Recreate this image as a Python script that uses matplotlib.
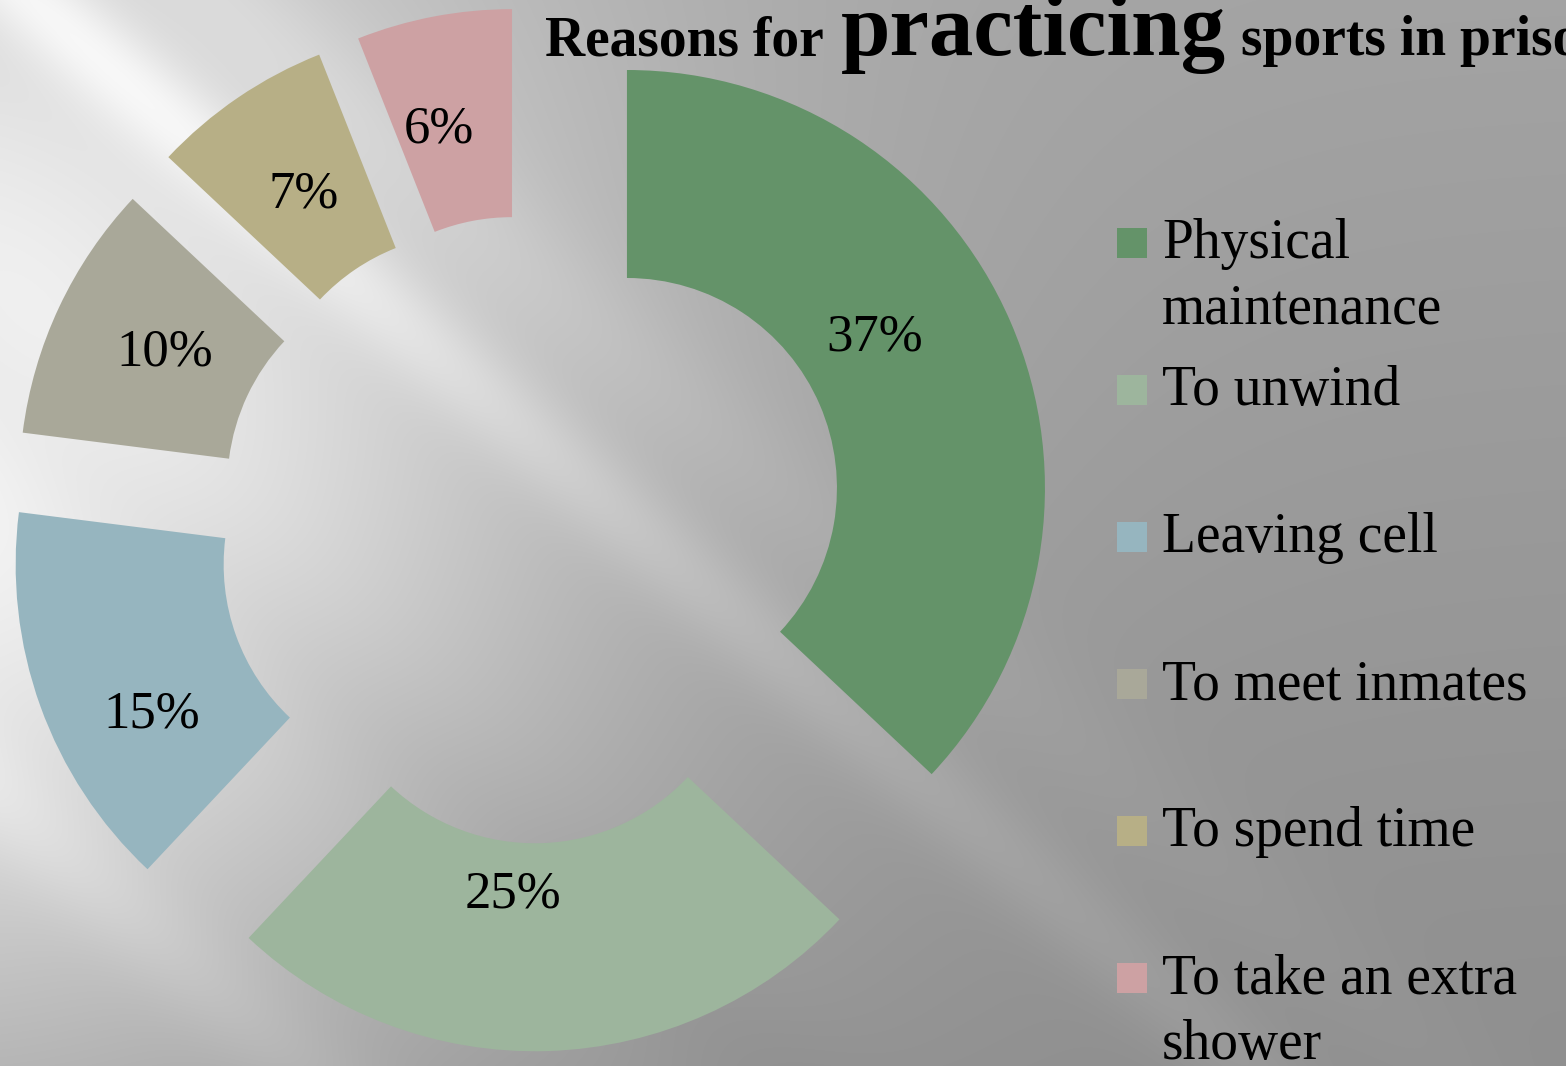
import textwrap
import numpy as np
import matplotlib
matplotlib.use("Agg")
import matplotlib.pyplot as plt
from matplotlib.patches import Rectangle

reasons = ["Physical maintenance", "To unwind", "Leaving cell",
           "To meet inmates", "To spend time", "To take an extra shower"]
shares = [37, 25, 15, 10, 7, 6]
colors = ["#649369", "#9db59d", "#96b5bf", "#a9a899", "#b7af86", "#cda1a3"]

W, H = 1566, 1066
plt.rcParams["font.family"] = ["Liberation Serif", "DejaVu Serif"]

fig = plt.figure(figsize=(W / 100, H / 100), dpi=100)
ax = fig.add_axes([0, 0, 1, 1])

# silver gradient backdrop with diagonal light streaks
xx, yy = np.meshgrid(np.arange(W), np.arange(H))
glow = np.exp(-(((xx + 80) / 650.0) ** 2 + ((yy - 470) / 650.0) ** 2))
lum = 0.56 + 0.08 * (1 - yy / H) + 0.36 * glow
u = 0.75 * xx + 0.66 * yy
v = -0.66 * xx + 0.75 * yy
for v0, sig, amp in [(-24, 45, 0.12), (-150, 60, 0.05), (600, 50, 0.07), (300, 70, -0.04)]:
    lum += amp * np.exp(-((v - v0) / sig) ** 2) * np.exp(-u / 1400.0)
lum = np.clip(lum, 0, 1)
bg = np.dstack([lum, lum, lum])
ax.imshow(bg, extent=(0, W, 0, H), origin="upper", zorder=0, aspect="auto")

cx, cy = 531.5, H - 529.3
R = 418
gap = 104
wedges, _, pcts = ax.pie(shares, colors=colors, startangle=90, counterclock=False,
                         radius=R, center=(cx, cy), explode=[gap] * len(shares),
                         wedgeprops=dict(width=208, linewidth=0),
                         autopct="%d%%", pctdistance=0.72,
                         textprops=dict(fontsize=38, color="black"))

# axes in pixel units from here on
ax.set_xlim(0, W)
ax.set_ylim(0, H)
ax.set_aspect("auto")
ax.axis("off")

# nudge the percentage labels around each ring segment
label_turn = [7.9, -6.6, 8.2, -0.8, 0.0, 3.0]
label_dist = [290, 262, 319, 303, 301, 306]
for w, t, dt, dr in zip(wedges, pcts, label_turn, label_dist):
    a = np.radians((w.theta1 + w.theta2) / 2 + dt)
    t.set_position((w.center[0] + dr * np.cos(a), w.center[1] + dr * np.sin(a)))
    t.set_ha("center")
    t.set_va("center")

# legend
for i, (name, col) in enumerate(zip(reasons, colors)):
    base = H - (258 + 147 * i)
    ax.add_patch(Rectangle((1117, base), 30, 30, facecolor=col, linewidth=0, zorder=3))
    for k, line in enumerate(textwrap.wrap(name, 16)):
        ax.text(1162, base - 66 * k, line, fontsize=40, ha="left", va="baseline", zorder=3)

# title with an oversized middle word
renderer = fig.canvas.get_renderer()
x = 545
for word, size, gapx in [("Reasons for", 40, 17), ("practicing", 64, 15), ("sports in prison", 40, 0)]:
    t = ax.text(x, H - 55, word, fontsize=size, fontweight="bold", ha="left", va="baseline", zorder=3)
    x = t.get_window_extent(renderer).x1 + gapx

fig.savefig("out.png", dpi=100)
